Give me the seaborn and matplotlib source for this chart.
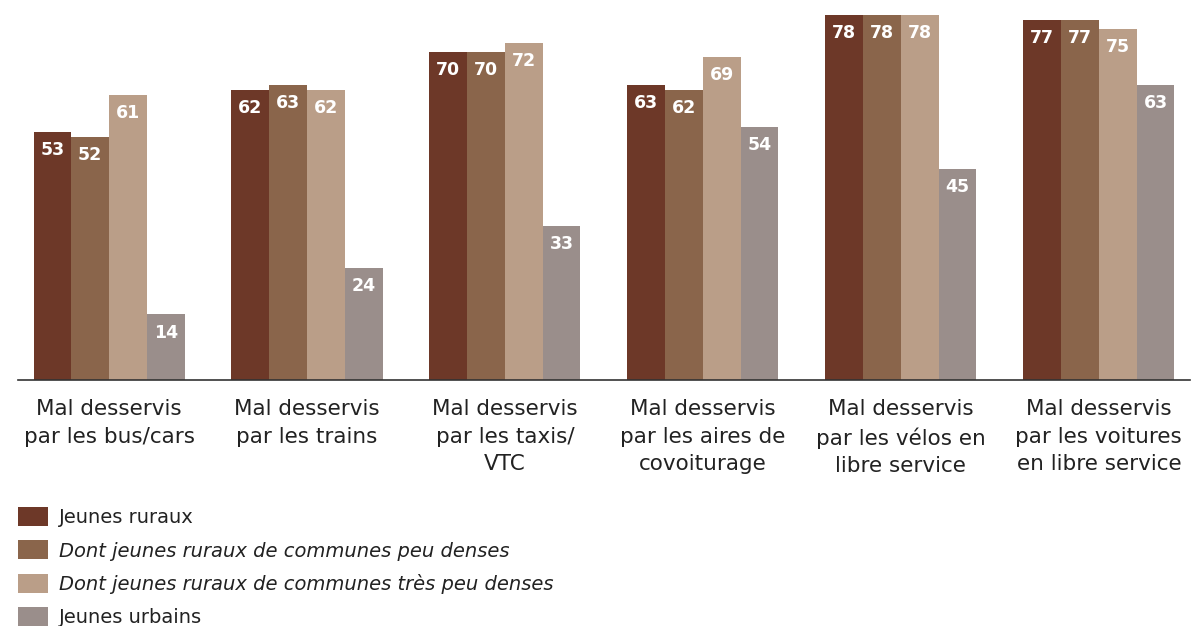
import pandas as pd
import matplotlib
matplotlib.use("Agg")
from matplotlib import pyplot as plt
import seaborn as sns

# Data
categories = [
    "Mal desservis\npar les bus/cars",
    "Mal desservis\npar les trains",
    "Mal desservis\npar les taxis/\nVTC",
    "Mal desservis\npar les aires de\ncovoiturage",
    "Mal desservis\npar les vélos en\nlibre service",
    "Mal desservis\npar les voitures\nen libre service",
]
series = [
    "Jeunes ruraux",
    "Dont jeunes ruraux de communes peu denses",
    "Dont jeunes ruraux de communes très peu denses",
    "Jeunes urbains",
]
jeunes_ruraux = [53, 62, 70, 63, 78, 77]
ruraux_peu_denses = [52, 63, 70, 62, 78, 77]
ruraux_tres_peu_denses = [61, 62, 72, 69, 78, 75]
jeunes_urbains = [14, 24, 33, 54, 45, 63]
colors = ["#6D3828", "#8A654B", "#BA9E88", "#9A8E8B"]

values = [jeunes_ruraux, ruraux_peu_denses, ruraux_tres_peu_denses, jeunes_urbains]
rows = []
for s, vals in zip(series, values):
    for c, v in zip(categories, vals):
        rows.append({"categorie": c, "serie": s, "valeur": v})
df = pd.DataFrame(rows)

sns.set_style("white")
plt.rcParams["font.family"] = ["DejaVu Sans"]

fig = plt.figure(figsize=(11.91, 6.26), dpi=100)
ax = fig.add_axes([0.0151, 0.393, 0.984, 0.607])

sns.barplot(
    data=df, x="categorie", y="valeur", hue="serie",
    palette=colors, width=0.763, gap=0, saturation=1,
    edgecolor="none", linewidth=0, ax=ax, legend=True,
)

for cont in ax.containers:
    ax.bar_label(cont, padding=-19.5, color="white", fontweight="bold", fontsize=12.5)

ax.set_xlim(-0.46, 5.46)
ax.set_ylim(0, 81.2)
ax.set_xlabel("")
ax.set_ylabel("")
ax.set_yticks([])
for side in ["top", "left", "right"]:
    ax.spines[side].set_visible(False)
ax.spines["bottom"].set_color("#333333")
ax.spines["bottom"].set_linewidth(1.2)
ax.tick_params(axis="x", length=0, pad=14, labelsize=15.5, colors="#222222")
for lbl in ax.get_xticklabels():
    lbl.set_linespacing(1.45)

handles, labels = ax.get_legend_handles_labels()
ax.get_legend().remove()
leg = fig.legend(
    handles, labels, loc="upper left", bbox_to_anchor=(0.015, 0.19),
    frameon=False, fontsize=14, handlelength=1.55, handleheight=1.13,
    handletextpad=0.55, labelspacing=0.68, borderpad=0, borderaxespad=0,
)
for i, t in enumerate(leg.get_texts()):
    t.set_color("#222222")
    if i in (1, 2):
        t.set_style("italic")

fig.savefig("out.png", dpi=100)
